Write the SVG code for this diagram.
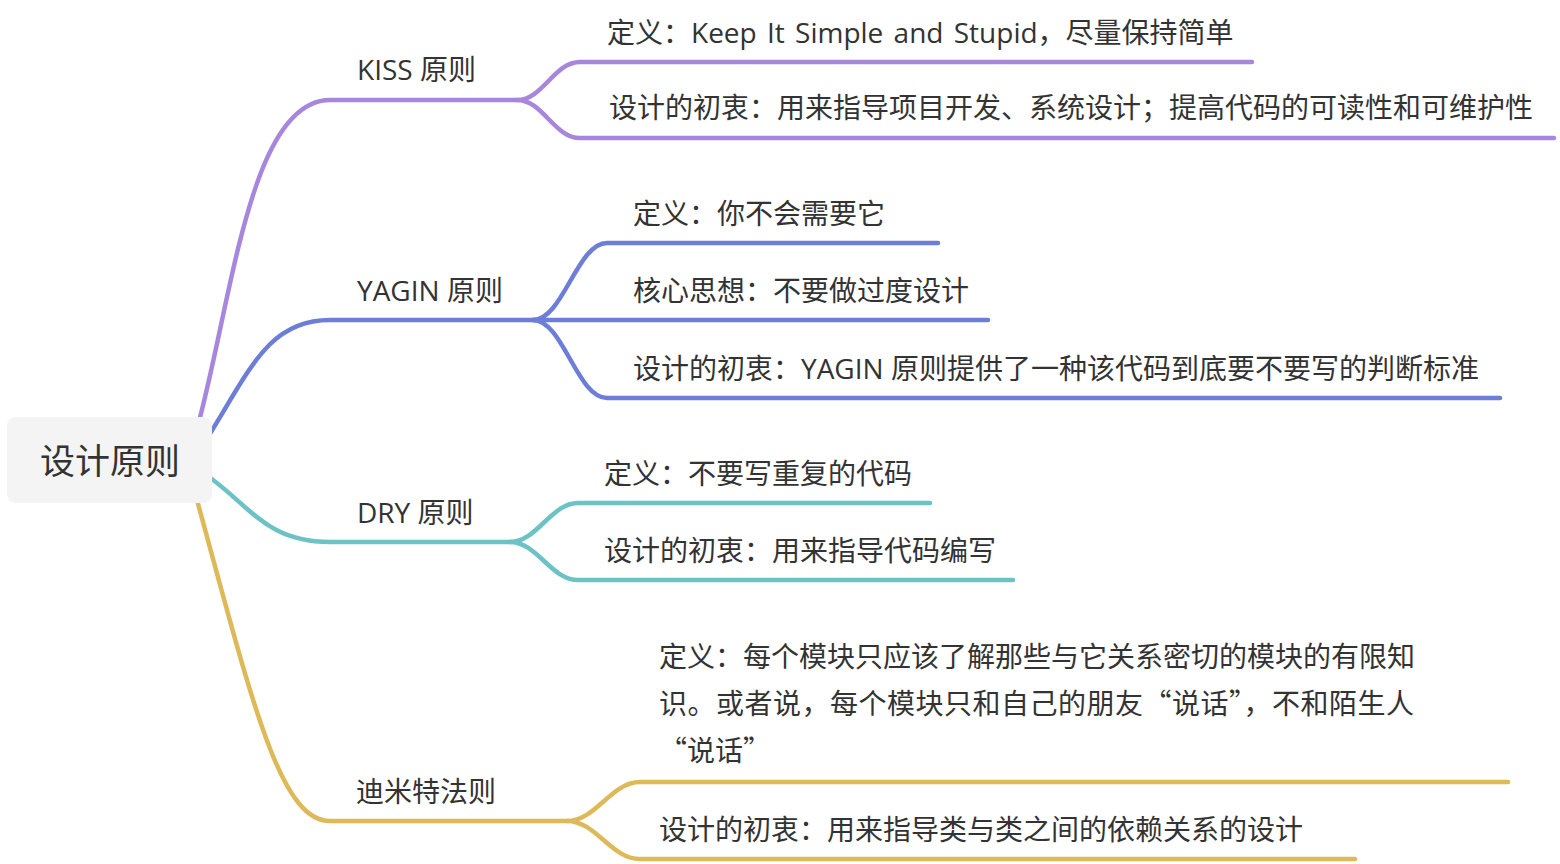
<svg xmlns="http://www.w3.org/2000/svg" width="1560" height="864" viewBox="0 0 1560 864">
  <style>
    .ln { fill: none; stroke-width: 4.5; stroke-linecap: round; stroke-linejoin: round; }
    .p { stroke: #a787dd; }
    .b { stroke: #6c7ed8; }
    .t { stroke: #6cc2c4; }
    .g { stroke: #deb95a; }
    .tx { font-family: "Open Sans", "Noto Sans CJK SC", sans-serif; font-size: 28px; fill: #333333; }
    .cj { font-family: "Noto Sans CJK SC", sans-serif; font-size: 28px; fill: #333333; }
    .root { font-family: "Noto Sans CJK SC", sans-serif; font-size: 35px; fill: #333333; }
  </style>
  <rect width="1560" height="864" fill="#ffffff"/>
  <g id="connectors">
    <path class="ln p" d="M 198 425 C 232 300, 250 100, 330 100 L 517 100"/>
    <path class="ln p" d="M 517 100 C 543 100, 554 62, 580 62 L 1252 62"/>
    <path class="ln p" d="M 517 100 C 543 100, 554 138, 580 138 L 1554 138"/>
    <path class="ln b" d="M 206 440 C 250 370, 268 320, 330 320 L 533 320"/>
    <path class="ln b" d="M 533 320 C 563 320, 577 243, 607 243 L 938 243"/>
    <path class="ln b" d="M 533 320 L 988 320"/>
    <path class="ln b" d="M 533 320 C 563 320, 577 398, 607 398 L 1500 398"/>
    <path class="ln t" d="M 205 474 C 250 505, 265 542, 330 542 L 510 542"/>
    <path class="ln t" d="M 510 542 C 537 542, 551 503, 578 503 L 930 503"/>
    <path class="ln t" d="M 510 542 C 537 542, 551 580, 578 580 L 1013 580"/>
    <path class="ln g" d="M 197 500 C 253 705, 280 821, 330 821 L 567 821"/>
    <path class="ln g" d="M 567 821 C 596 821, 611 782, 640 782 L 1508 782"/>
    <path class="ln g" d="M 567 821 C 596 821, 611 859, 640 859 L 1355 859"/>
  </g>
  <g id="root">
    <rect x="7" y="417" width="205" height="86" rx="9" fill="#f4f4f4"/>
    <text class="root" x="110" y="474" text-anchor="middle">设计原则</text>
  </g>
  <g id="kiss">
    <text class="tx" x="357" y="80">KISS 原则</text>
  </g>
  <g id="kiss-def">
    <text class="tx" x="607" y="43" word-spacing="3">定义：Keep It Simple and Stupid，尽量保持简单</text>
  </g>
  <g id="kiss-purpose">
    <text class="cj" x="609" y="118">设计的初衷：用来指导项目开发、系统设计；提高代码的可读性和可维护性</text>
  </g>
  <g id="yagin">
    <text class="tx" x="357" y="301">YAGIN 原则</text>
  </g>
  <g id="yagin-def">
    <text class="cj" x="633" y="224">定义：你不会需要它</text>
  </g>
  <g id="yagin-core">
    <text class="cj" x="633" y="301">核心思想：不要做过度设计</text>
  </g>
  <g id="yagin-purpose">
    <text class="tx" x="633" y="379">设计的初衷：YAGIN 原则提供了一种该代码到底要不要写的判断标准</text>
  </g>
  <g id="dry">
    <text class="tx" x="357" y="523">DRY 原则</text>
  </g>
  <g id="dry-def">
    <text class="cj" x="604" y="484">定义：不要写重复的代码</text>
  </g>
  <g id="dry-purpose">
    <text class="cj" x="604" y="561">设计的初衷：用来指导代码编写</text>
  </g>
  <g id="demeter">
    <text class="cj" x="356" y="802">迪米特法则</text>
  </g>
  <g id="demeter-def">
    <text class="cj" x="659" y="667">定义：每个模块只应该了解那些与它关系密切的模块的有限知</text>
    <text class="cj" x="659" y="714" letter-spacing="0.5">识。或者说，每个模块只和自己的朋友“说话”，不和陌生人</text>
    <text class="cj" x="659" y="761">“说话”</text>
  </g>
  <g id="demeter-purpose">
    <text class="cj" x="659" y="840">设计的初衷：用来指导类与类之间的依赖关系的设计</text>
  </g>
</svg>
